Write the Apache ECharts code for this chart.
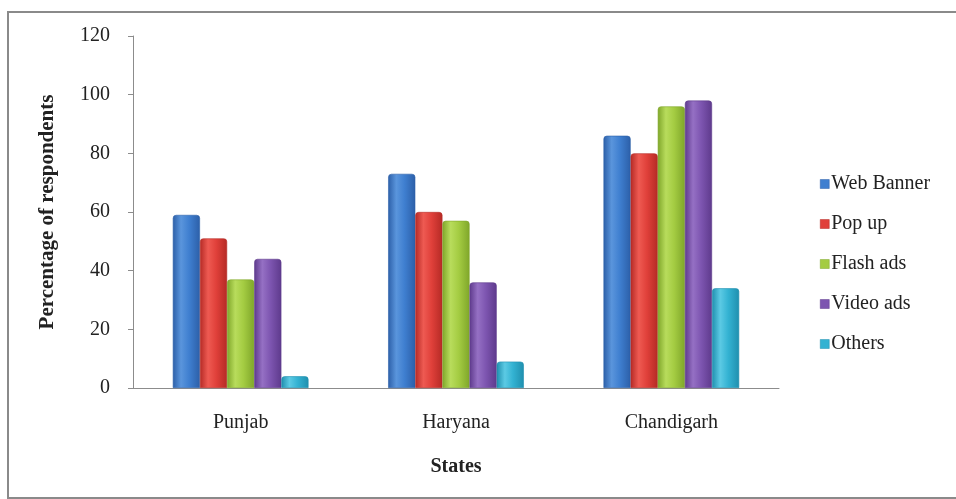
<!DOCTYPE html>
<html>
<head>
<meta charset="utf-8">
<script src="https://cdn.jsdelivr.net/npm/echarts@6/dist/echarts.min.js"></script>
<style>
  html, body { margin: 0; padding: 0; background: #fff; }
  #chart { width: 956px; height: 499px; }
</style>
</head>
<body>
<div id="chart"></div>
<script>
// Survey: preferred online ad format by state
const states = ['Punjab', 'Haryana', 'Chandigarh'];
const webBanner = [59, 73, 86];
const popUp = [51, 60, 80];
const flashAds = [37, 57, 96];
const videoAds = [44, 36, 98];
const others = [4, 9, 34];
const yTicks = [0, 20, 40, 60, 80, 100, 120];

const seriesNames = ['Web Banner', 'Pop up', 'Flash ads', 'Video ads', 'Others'];
const seriesData = [webBanner, popUp, flashAds, videoAds, others];
// [edge, mid, highlight]
const palette = [
  ['#2c5fa8', '#3f7fd0', '#5a95dc'],
  ['#b52a25', '#e0403a', '#ee5a52'],
  ['#7fa62a', '#a4cc42', '#b8dc5c'],
  ['#5e3a8c', '#7d55b0', '#9570c4'],
  ['#1f8fae', '#33b2d2', '#5ccae4']
];

function barFill(c) {
  return new echarts.graphic.LinearGradient(0, 0, 1, 0, [
    { offset: 0, color: c[0] },
    { offset: 0.3, color: c[2] },
    { offset: 0.6, color: c[1] },
    { offset: 1, color: c[0] }
  ]);
}

const serif = '"Liberation Serif", "Times New Roman", serif';
const chart = echarts.init(document.getElementById('chart'), null, { renderer: 'canvas' });

chart.setOption({
  animation: false,
  backgroundColor: '#fff',
  graphic: [{
    type: 'rect',
    shape: { x: 8, y: 12, width: 960, height: 486 },
    style: { fill: 'none', stroke: '#8a8a8a', lineWidth: 2 },
    silent: true
  }],
  grid: { left: 133, right: 177, top: 36, bottom: 111 },
  legend: {
    orient: 'vertical',
    left: 815,
    top: 169,
    itemWidth: 9,
    itemHeight: 9,
    itemGap: 20,
    icon: 'rect',
    textStyle: { fontFamily: serif, fontSize: 20, color: '#222', padding: [0, 0, 0, -3] },
    data: seriesNames.map((n, i) => ({ name: n, itemStyle: { color: palette[i][1], borderColor: palette[i][0], borderWidth: 0.5 } }))
  },
  xAxis: {
    type: 'category',
    data: states,
    name: 'States',
    nameLocation: 'middle',
    nameGap: 69,
    nameTextStyle: { fontFamily: serif, fontSize: 20, fontWeight: 'bold', color: '#222' },
    axisLine: { lineStyle: { color: '#8c8c8c', width: 1 } },
    axisTick: { show: false },
    axisLabel: { fontFamily: serif, fontSize: 20, color: '#222', margin: 25 }
  },
  yAxis: {
    type: 'value',
    min: 0,
    max: 120,
    interval: 20,
    name: 'Percentage of respondents',
    nameLocation: 'middle',
    nameGap: 75,
    nameTextStyle: { fontFamily: serif, fontSize: 21, fontWeight: 'bold', color: '#222' },
    axisLine: { show: true, lineStyle: { color: '#8c8c8c', width: 1 } },
    axisTick: { show: true, length: 5, lineStyle: { color: '#8c8c8c' } },
    splitLine: { show: false },
    axisLabel: {
      fontFamily: serif, fontSize: 20, color: '#222', margin: 23,
      formatter: v => (yTicks.includes(v) ? String(v) : '')
    }
  },
  series: seriesNames.map((name, i) => ({
    name,
    type: 'bar',
    data: seriesData[i],
    barGap: '0%',
    barCategoryGap: '37%',
    itemStyle: {
      color: barFill(palette[i]),
      borderColor: palette[i][0],
      borderWidth: 0.6,
      borderRadius: [3, 3, 0, 0]
    }
  }))
});
</script>
</body>
</html>
